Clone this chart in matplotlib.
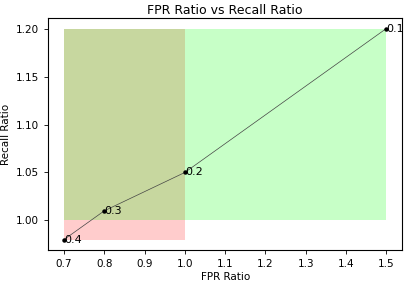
import matplotlib
matplotlib.use("Agg")
import matplotlib.pyplot as plt

fpr_ratio = [0.7, 0.8, 1.0, 1.5]
recall_ratio = [0.98, 1.01, 1.05, 1.20]
thresholds = ["0.4", "0.3", "0.2", "0.1"]

fig = plt.figure(figsize=(4.06, 2.82), dpi=100)
ax = fig.add_axes([0.118, 0.113, 0.873, 0.823])

ax.fill_between([0.7, 1.0], 0.98, 1.20, color="red", alpha=0.2, linewidth=0)
ax.fill_between([0.7, 1.5], 1.00, 1.20, color="lime", alpha=0.22, linewidth=0)

ax.plot(fpr_ratio, recall_ratio, color="#444444", linewidth=0.5)
ax.plot(fpr_ratio, recall_ratio, "o", color="black", markersize=2.2)
for x, y, t in zip(fpr_ratio, recall_ratio, thresholds):
    ax.text(x, y, t, fontsize=8, ha="left", va="center")

ax.set_xticks([0.7, 0.8, 0.9, 1.0, 1.1, 1.2, 1.3, 1.4, 1.5])
ax.set_yticks([1.00, 1.05, 1.10, 1.15, 1.20])
ax.tick_params(labelsize=7.5, length=3, width=0.6)
for s in ax.spines.values():
    s.set_linewidth(0.8)
ax.set_xlabel("FPR Ratio", fontsize=7.5, labelpad=2)
ax.set_ylabel("Recall Ratio", fontsize=7.5, labelpad=3)
ax.set_title("FPR Ratio vs Recall Ratio", fontsize=9, pad=3)

fig.savefig("out.png", dpi=100)
